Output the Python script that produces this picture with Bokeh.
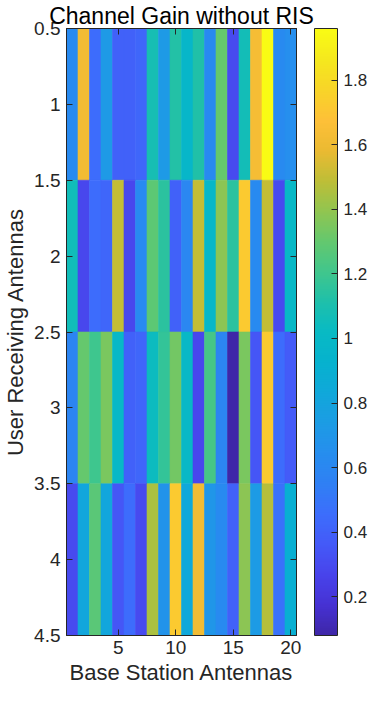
import numpy as np
from bokeh.plotting import figure
from bokeh.models import (ColumnDataSource, LinearColorMapper, ColorBar, FixedTicker,
                          LinearAxis, Range1d, CustomJSTickFormatter)
from bokeh.transform import transform
from bokeh.embed import file_html
from bokeh.resources import INLINE

# ---------------- data ----------------
columns = list(range(1, 21))          # Base Station Antennas
rows = [1, 2, 3, 4]                   # User Receiving Antennas

gain_row1 = [0.62, 1.62, 0.45, 0.72, 0.40, 0.40, 0.42, 1.08, 0.72, 1.13,
             0.97, 1.12, 0.62, 1.30, 0.30, 1.07, 1.63, 1.96, 0.62, 0.65]
gain_row2 = [1.06, 0.28, 0.45, 0.42, 1.50, 0.28, 0.62, 1.28, 1.15, 0.40,
             0.60, 1.50, 0.98, 1.38, 1.15, 1.72, 0.62, 1.50, 0.30, 1.00]
gain_row3 = [0.58, 1.30, 1.20, 1.35, 1.00, 0.40, 0.42, 1.04, 1.17, 1.33,
             1.00, 0.28, 1.22, 0.58, 0.08, 1.35, 0.35, 1.72, 0.45, 0.37]
gain_row4 = [0.30, 0.82, 1.27, 0.82, 0.35, 0.45, 0.30, 1.45, 0.68, 1.72,
             0.83, 1.62, 0.70, 0.62, 0.40, 1.38, 0.73, 1.47, 0.48, 0.90]

x_ticks = [5, 10, 15, 20]
y_ticks = [0.5, 1, 1.5, 2, 2.5, 3, 3.5, 4, 4.5]
cbar_ticks = [0.2, 0.4, 0.6, 0.8, 1, 1.2, 1.4, 1.6, 1.8]

title_text = "Channel Gain without RIS"
x_label = "Base Station Antennas"
y_label = "User Receiving Antennas"

# parula-like colormap anchors
parula_t = [0.00, 0.05, 0.10, 0.15, 0.20, 0.25, 0.30, 0.35, 0.40, 0.45, 0.50,
            0.55, 0.60, 0.65, 0.70, 0.75, 0.80, 0.85, 0.90, 0.95, 1.00]
parula_rgb = [(62, 38, 168), (70, 50, 212), (72, 68, 236), (68, 90, 248),
              (60, 110, 252), (47, 128, 244), (38, 142, 238), (28, 156, 228),
              (16, 168, 218), (6, 178, 206), (8, 186, 196), (30, 192, 170),
              (65, 198, 140), (100, 200, 110), (145, 197, 80), (190, 190, 55),
              (235, 186, 50), (254, 192, 56), (248, 212, 40), (245, 232, 30),
              (249, 251, 20)]

# ---------------- build ----------------
grid = [gain_row1, gain_row2, gain_row3, gain_row4]
xs, ys, vals = [], [], []
for r, row_vals in zip(rows, grid):
    for c, v in zip(columns, row_vals):
        xs.append(c)
        ys.append(r)
        vals.append(v)
source = ColumnDataSource(dict(x=xs, y=ys, v=vals))

tt = np.linspace(0, 1, 256)
arr = np.array(parula_rgb, dtype=float)
palette = []
for t in tt:
    rr = np.interp(t, parula_t, arr[:, 0])
    gg = np.interp(t, parula_t, arr[:, 1])
    bb = np.interp(t, parula_t, arr[:, 2])
    palette.append("#%02x%02x%02x" % (int(round(rr)), int(round(gg)), int(round(bb))))

mapper = LinearColorMapper(palette=palette, low=min(vals), high=max(vals))

FONT = "Liberation Sans"
TXT = "#262626"

p = figure(width=370, height=687,
           x_range=Range1d(0.5, 20.5), y_range=Range1d(4.5, 0.5),
           output_backend="svg", toolbar_location=None,
           min_border_left=61, min_border_right=70,
           min_border_top=20, min_border_bottom=50,
           title=title_text)
p.background_fill_color = "white"
p.border_fill_color = "white"
p.outline_line_color = TXT
p.grid.visible = False

p.title.align = "center"
p.title.text_font = FONT
p.title.text_font_size = "23px"
p.title.text_font_style = "normal"
p.title.text_color = "#000000"
p.title.standoff = 0
p.title.offset = 0

p.rect(x="x", y="y", width=1, height=1, source=source,
       fill_color=transform("v", mapper), line_color=transform("v", mapper),
       line_width=0.6)

for ax in (p.xaxis[0], p.yaxis[0]):
    ax.major_tick_in = 6
    ax.major_tick_out = 0
    ax.minor_tick_line_color = None
    ax.major_tick_line_color = TXT
    ax.axis_line_color = TXT
    ax.major_label_text_font = FONT
    ax.major_label_text_font_size = "19px"
    ax.major_label_text_color = TXT
    ax.axis_label_text_font = FONT
    ax.axis_label_text_font_size = "22px"
    ax.axis_label_text_font_style = "normal"
    ax.axis_label_text_color = TXT
    ax.major_label_standoff = 6
    ax.axis_label_standoff = 3
p.xaxis[0].major_label_standoff = 5
p.xaxis[0].axis_label_standoff = 3

fmt = CustomJSTickFormatter(code="return tick.toString();")
p.xaxis[0].ticker = FixedTicker(ticks=x_ticks)
p.yaxis[0].ticker = FixedTicker(ticks=y_ticks)
p.xaxis[0].formatter = fmt
p.yaxis[0].formatter = fmt
p.xaxis[0].axis_label = x_label
p.yaxis[0].axis_label = y_label

blank = CustomJSTickFormatter(code="return '';")
top_axis = LinearAxis(ticker=FixedTicker(ticks=x_ticks), formatter=blank,
                      major_tick_in=6, major_tick_out=0, minor_tick_line_color=None,
                      major_tick_line_color=TXT, axis_line_color=TXT,
                      major_label_standoff=0)
right_axis = LinearAxis(ticker=FixedTicker(ticks=y_ticks), formatter=blank,
                        major_tick_in=6, major_tick_out=0, minor_tick_line_color=None,
                        major_tick_line_color=TXT, axis_line_color=TXT,
                        major_label_standoff=0)
p.add_layout(top_axis, "above")
p.add_layout(right_axis, "right")

cbar = ColorBar(color_mapper=mapper, ticker=FixedTicker(ticks=cbar_ticks),
                formatter=fmt, width=23, padding=0, margin=0,
                location=(18, 0),
                major_tick_in=6, major_tick_out=0, major_tick_line_color=TXT,
                minor_tick_line_color=None,
                bar_line_color=TXT, bar_line_width=1,
                label_standoff=6,
                major_label_text_font=FONT, major_label_text_font_size="17px",
                major_label_text_color=TXT,
                background_fill_color=None, border_line_color=None)
p.add_layout(cbar, "right")

open("out.html", "w").write(file_html(p, INLINE))
